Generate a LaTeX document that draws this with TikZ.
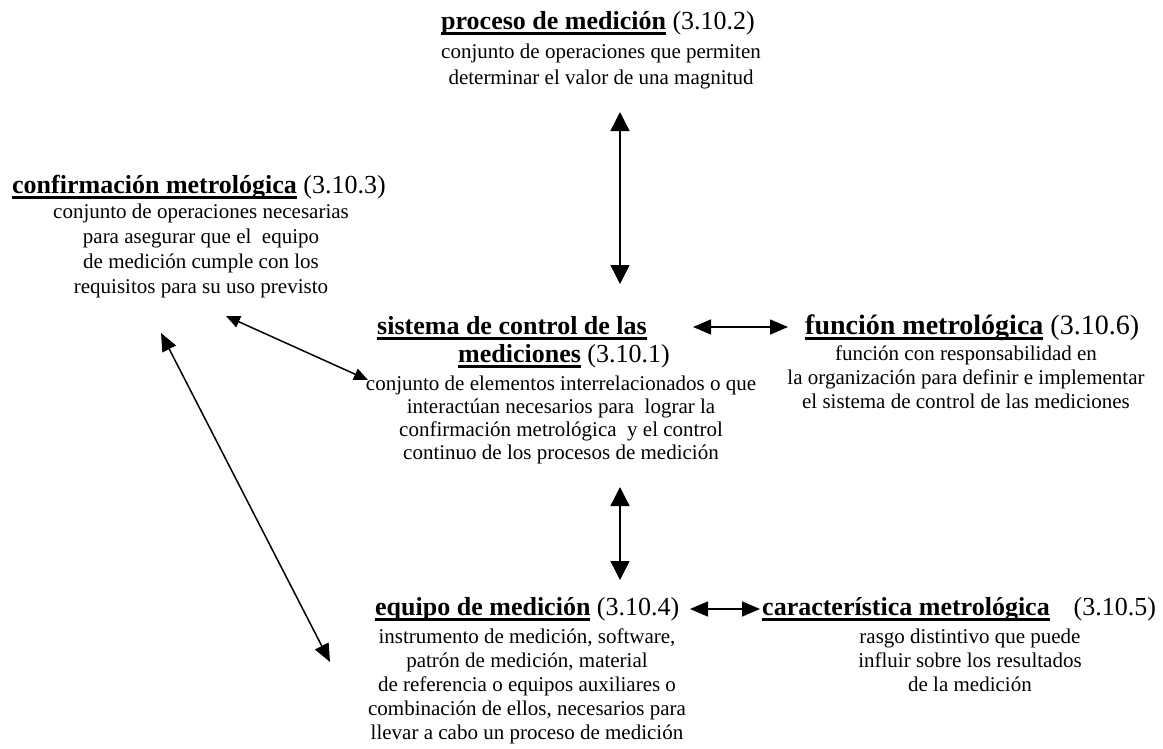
\documentclass[tikz,border=0pt]{standalone}
\usepackage{fontspec}
\setmainfont{Liberation Serif}
\usetikzlibrary{arrows.meta}
\newsavebox\ttlbox
\newcommand\ttl[1]{\sbox\ttlbox{\bfseries #1}\rlap{\usebox\ttlbox}\rule[-5.5pt]{\wd\ttlbox}{2.4pt}}
\tikzset{
  ttlnode/.style={anchor=base west, inner sep=0pt, font=\fontsize{26}{28}\selectfont},
  bodynode/.style={anchor=north, inner sep=0pt, align=center, font=\fontsize{21}{24}\selectfont},
  bigtip/.style={{Triangle[length=19pt,width=19pt]}-{Triangle[length=19pt,width=19pt]}, line width=1.5pt},
  midtip/.style={{Triangle[length=18pt,width=15pt]}-{Triangle[length=18pt,width=15pt]}, line width=1.5pt},
  smalltip/.style={{Triangle[length=14pt,width=12pt]}-{Triangle[length=14pt,width=12pt]}, line width=1.5pt},
}
\begin{document}
\begin{tikzpicture}[x=1pt,y=-1pt]
\fill[white] (0,0) rectangle (1163,748);
\useasboundingbox (0,0) rectangle (1163,748);

% proceso de medicion
\node[ttlnode] (procT) at (441,29) {\ttl{proceso de medición} (3.10.2)};
\node[bodynode, font=\fontsize{21}{26}\selectfont] (procB) at (601,58-18.2) {\strut conjunto de operaciones que permiten\\ determinar el valor de una magnitud};

% confirmacion metrologica
\node[ttlnode] (confT) at (12,193) {\ttl{confirmación metrológica} (3.10.3)};
\node[bodynode, font=\fontsize{21}{25}\selectfont] (confB) at (201,218-17.5) {\strut conjunto de operaciones necesarias\\ para asegurar que el\ \ equipo\\ de medición cumple con los\\ requisitos para su uso previsto};

% sistema de control
\node[ttlnode] (sisT) at (377,334) {\ttl{sistema de control de las}};
\node[ttlnode] (sisT2) at (458,362) {\ttl{mediciones} (3.10.1)};
\node[bodynode, font=\fontsize{21}{23}\selectfont] (sisB) at (561,390-16.1) {\strut conjunto de elementos interrelacionados o que\\ interactúan necesarios para\ \ lograr la\\ confirmación metrológica\ \ y el control\\ continuo de los procesos de medición};

% funcion metrologica
\node[ttlnode, font=\fontsize{28}{30}\selectfont] (funT) at (805,334) {\ttl{función metrológica} (3.10.6)};
\node[bodynode] (funB) at (966,360-16.8) {\strut función con responsabilidad en\\ la organización para definir e implementar\\ el sistema de control de las mediciones};

% equipo de medicion
\node[ttlnode] (equT) at (375,615) {\ttl{equipo de medición} (3.10.4)};
\node[bodynode] (equB) at (527,643-16.8) {\strut instrumento de medición, software,\\ patrón de medición, material\\ de referencia o equipos auxiliares o\\ combinación de ellos, necesarios para\\ llevar a cabo un proceso de medición};

% caracteristica metrologica
\node[ttlnode] (carT) at (762,615) {\ttl{característica metrológica}\hspace{24pt}(3.10.5)};
\node[bodynode] (carB) at (970,643-16.8) {\strut rasgo distintivo que puede\\ influir sobre los resultados\\ de la medición};

% connectors
\coordinate (p1) at (620,112);
\coordinate (s1) at (620,284);
\draw[bigtip] (p1) -- (s1);

\coordinate (s2) at (693,327);
\coordinate (f1) at (788,327);
\draw[midtip] (s2) -- (f1);

\coordinate (c1) at (226,316);
\coordinate (s3) at (368,380);
\draw[smalltip] (c1) -- (s3);

\coordinate (c2) at (161,333);
\coordinate (e1) at (330,662);
\draw[midtip] (c2) -- (e1);

\coordinate (s4) at (620,487);
\coordinate (e2) at (620,580);
\draw[bigtip] (s4) -- (e2);

\coordinate (e3) at (690,609);
\coordinate (k1) at (760,609);
\draw[midtip] (e3) -- (k1);
\end{tikzpicture}
\end{document}
